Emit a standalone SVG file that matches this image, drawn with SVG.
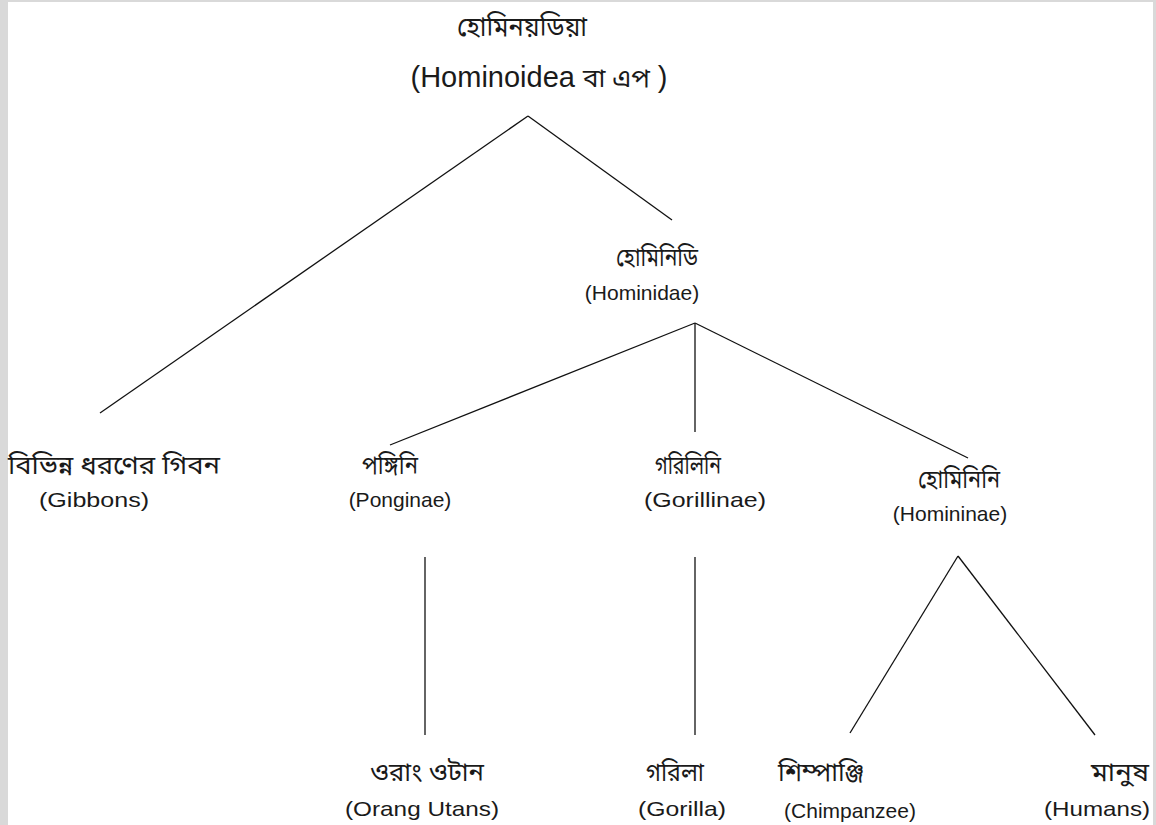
<svg xmlns="http://www.w3.org/2000/svg" width="1156" height="825" viewBox="0 0 1156 825">
<style>
.bn{font-family:"Noto Sans Bengali","Noto Sans","Liberation Sans",sans-serif;font-size:25px;fill:#1a1a1a;text-anchor:middle}
.en{font-family:"Liberation Sans",Arial,sans-serif;font-size:21px;fill:#1a1a1a;text-anchor:middle}
.ln{stroke:#111;stroke-width:1.3;fill:none}
</style>
<rect x="0" y="0" width="1156" height="825" fill="#d9d9d9"/>
<rect x="8" y="2" width="1145" height="823" fill="#ffffff"/>
<g id="connectors">
<line class="ln" x1="528" y1="116" x2="100" y2="413"/>
<line class="ln" x1="528" y1="116" x2="672" y2="220"/>
<line class="ln" x1="695" y1="323" x2="390" y2="445"/>
<line class="ln" x1="695" y1="323" x2="695" y2="432"/>
<line class="ln" x1="695" y1="323" x2="968" y2="458"/>
<line class="ln" x1="425" y1="557" x2="425" y2="735"/>
<line class="ln" x1="695" y1="557" x2="695" y2="735"/>
<line class="ln" x1="958" y1="556" x2="850" y2="733"/>
<line class="ln" x1="958" y1="556" x2="1095" y2="735"/>
</g>
<g id="hominoidea">
<text class="bn" x="522" y="36" style="font-size:27px" textLength="130" lengthAdjust="spacingAndGlyphs">হোমিনয়ডিয়া</text>
<text class="en" x="539" y="87" style="font-size:29px">(Hominoidea <tspan style="font-family:'Noto Sans Bengali','Noto Sans',sans-serif;font-size:26px">বা এপ</tspan> )</text>
</g>
<g id="hominidae">
<text class="bn" x="657" y="266" textLength="82" lengthAdjust="spacingAndGlyphs">হোমিনিডি</text>
<text class="en" x="642" y="300">(Hominidae)</text>
</g>
<g id="gibbons">
<text class="bn" x="8" y="474" style="text-anchor:start" textLength="212" lengthAdjust="spacingAndGlyphs">বিভিন্ন ধরণের গিবন</text>
<text class="en" x="94" y="507" textLength="110" lengthAdjust="spacingAndGlyphs">(Gibbons)</text>
</g>
<g id="ponginae">
<text class="bn" x="390" y="474" textLength="56" lengthAdjust="spacingAndGlyphs">পঙ্গিনি</text>
<text class="en" x="400" y="507">(Ponginae)</text>
</g>
<g id="gorillinae">
<text class="bn" x="688" y="474" textLength="66" lengthAdjust="spacingAndGlyphs">গরিলিনি</text>
<text class="en" x="705" y="507" textLength="122" lengthAdjust="spacingAndGlyphs">(Gorillinae)</text>
</g>
<g id="homininae">
<text class="bn" x="959" y="488" textLength="82" lengthAdjust="spacingAndGlyphs">হোমিনিনি</text>
<text class="en" x="950" y="521">(Homininae)</text>
</g>
<g id="orangutans">
<text class="bn" x="427" y="781" textLength="114" lengthAdjust="spacingAndGlyphs">ওরাং ওটান</text>
<text class="en" x="422" y="816" textLength="154" lengthAdjust="spacingAndGlyphs">(Orang Utans)</text>
</g>
<g id="gorilla">
<text class="bn" x="675" y="781" textLength="58" lengthAdjust="spacingAndGlyphs">গরিলা</text>
<text class="en" x="682" y="816" textLength="88" lengthAdjust="spacingAndGlyphs">(Gorilla)</text>
</g>
<g id="chimpanzee">
<text class="bn" x="821" y="781" textLength="86" lengthAdjust="spacingAndGlyphs">শিম্পাঞ্জি</text>
<text class="en" x="850" y="818">(Chimpanzee)</text>
</g>
<g id="humans">
<text class="bn" x="1120" y="781" textLength="58" lengthAdjust="spacingAndGlyphs">মানুষ</text>
<text class="en" x="1097" y="816" textLength="106" lengthAdjust="spacingAndGlyphs">(Humans)</text>
</g>
</svg>
